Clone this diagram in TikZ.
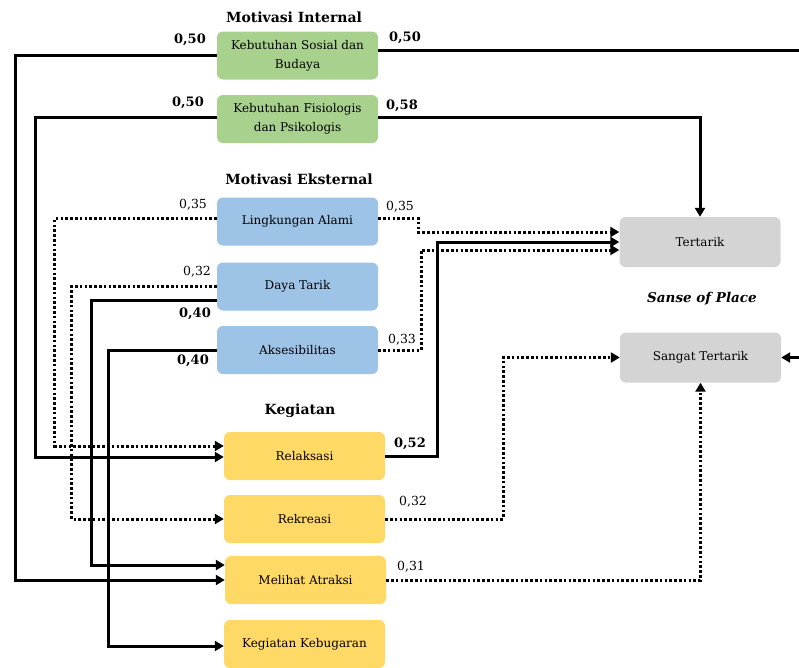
\documentclass[tikz,border=0pt]{standalone}
\usepackage{fontspec}
\setmainfont{DejaVu Serif}
\usepackage{tikz}
\usetikzlibrary{arrows.meta,calc}
\definecolor{mintgreen}{HTML}{A9D18E}
\definecolor{extblue}{HTML}{9DC3E6}
\definecolor{kegyellow}{HTML}{FFD966}
\definecolor{sopgray}{HTML}{D4D4D4}

\begin{document}
\begin{tikzpicture}[x=1pt, y=-1pt,
    box/.style={rounded corners=6pt, minimum width=161pt, minimum height=48pt,
      align=center, inner sep=2pt, font=\fontsize{12}{19}\selectfont},
    mint/.style={box, fill=mintgreen},
    mext/.style={box, fill=extblue},
    keg/.style={box, fill=kegyellow},
    sop/.style={box, fill=sopgray, minimum height=50pt},
    grouptitle/.style={font=\fontsize{14}{16}\selectfont\bfseries},
    coef/.style={font=\fontsize{12.5}{14}\selectfont},
    coefb/.style={font=\fontsize{13}{15}\selectfont\bfseries},
    solidln/.style={line width=3pt, -{Triangle[length=9pt,width=10pt]}},
    dotln/.style={line width=3pt, dash pattern=on 2.6pt off 2.2pt,
      -{Triangle[length=9pt,width=10pt]}},
  ]
  \useasboundingbox (0,0) rectangle (799,667);
  % motivasi internal
  \node[grouptitle] (tint) at (294,17) {Motivasi Internal};
  \node[mint] (sos) at (297.5,55.5) {Kebutuhan Sosial dan\\Budaya};
  \node[mint] (fis) at (297.5,119) {Kebutuhan Fisiologis\\dan Psikologis};
  % motivasi eksternal
  \node[grouptitle] (teks) at (299,179) {Motivasi Eksternal};
  \node[mext] (ling) at (297.5,221.5) {Lingkungan Alami};
  \node[mext] (daya) at (297.5,286.5) {Daya Tarik};
  \node[mext] (akses) at (297.5,350) {Aksesibilitas};
  % kegiatan
  \node[grouptitle] (tkeg) at (300,411) {Kegiatan};
  \node[keg] (rel) at (304.5,456) {Relaksasi};
  \node[keg] (rek) at (304.5,519) {Rekreasi};
  \node[keg] (mel) at (305.5,580) {Melihat Atraksi};
  \node[keg] (bug) at (304.5,644) {Kegiatan Kebugaran};
  % sense of place
  \node[sop] (ter) at (700,242) {Tertarik};
  \node[grouptitle, font=\fontsize{13.5}{16}\selectfont\bfseries\itshape] (tsop) at (702,299) {Sanse of Place};
  \node[sop] (sgt) at (700.5,357.5) {Sangat Tertarik};
  \coordinate (outR) at (799,50);
  \coordinate (inR) at (799,357.5);

  % solid paths
  \draw[solidln] (sos.west) -- ++(-201,0) |- (mel.west);
  \draw[line width=3pt] ([yshift=5.5]sos.east) -- (outR);
  \draw[solidln] ([yshift=2]fis.west) -- ++(-181,0) |- ([yshift=-1]rel.west);
  \draw[solidln] ([yshift=2]fis.east) -| (ter.north);
  \draw[solidln] ([yshift=-14]daya.west) -- ++(-125,0) |- ([yshift=15]mel.west);
  \draw[solidln] (akses.west) -- ++(-108,0) |- ([yshift=-2]bug.west);
  \draw[solidln] (rel.east) -- ++(52,0) |- (ter.west);
  \draw[solidln] (inR) -- (sgt.east);
  % dotted paths
  \draw[dotln] ([yshift=3]ling.west) -- ++(-162,0) |- ([yshift=10]rel.west);
  \draw[dotln] ([yshift=3]ling.east) -- ++(40,0) |- ([yshift=10]ter.west);
  \draw[dotln] (daya.west) -- ++(-145,0) |- (rek.west);
  \draw[dotln] (akses.east) -- ++(43,0) |- ([yshift=-8]ter.west);
  \draw[dotln] (rek.east) -- ++(118,0) |- (sgt.west);
  \draw[dotln] (mel.east) -| (sgt.south);

  % coefficients
  \node[coefb] (k1) at (190,40) {0,50};
  \node[coefb] (k2) at (405,38) {0,50};
  \node[coefb] (k3) at (188,103) {0,50};
  \node[coefb] (k4) at (402,106) {0,58};
  \node[coef] (k5) at (193,205) {0,35};
  \node[coef] (k6) at (400,207) {0,35};
  \node[coef] (k7) at (197,272) {0,32};
  \node[coefb] (k8) at (195,314) {0,40};
  \node[coefb] (k9) at (193,361) {0,40};
  \node[coef] (k10) at (402,340) {0,33};
  \node[coefb] (k11) at (410,444) {0,52};
  \node[coef] (k12) at (413,502) {0,32};
  \node[coef] (k13) at (411,567) {0,31};
\end{tikzpicture}
\end{document}
